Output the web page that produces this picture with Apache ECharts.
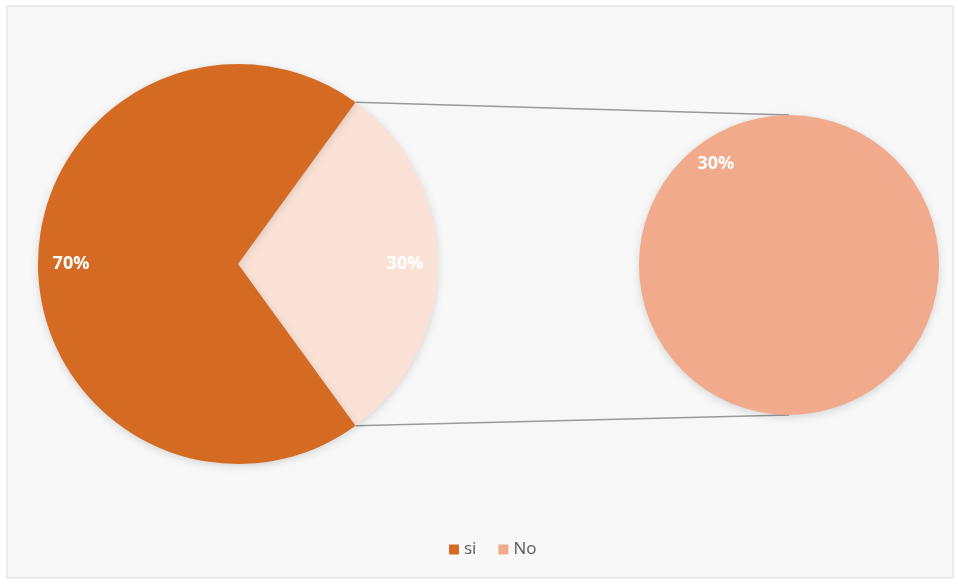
<html>
<head>
<meta charset="utf-8">
<title>pie of pie</title>
<style>
  body { margin: 0; background: #fff; }
  #chart { width: 957px; height: 582px; }
</style>
</head>
<body>
<div id="chart"></div>
<script src="https://cdn.jsdelivr.net/npm/echarts@6/dist/echarts.min.js"></script>
<script>
var categories = ['si', 'No'];
var values = [70, 30];
var colors = ['#D56B22', '#FBE2D7'];
var subColor = '#F1AA8B';

var total = values[0] + values[1];

// geometry of the two pies
var mainC = [238, 264], mainR = 200;
var subC = [789, 265], subR = 150;

// the "No" slice is centered on the right side of the main pie
var half = values[1] / total * 180;
var startMain = half;

function pct(v) { return Math.round(v / total * 100) + '%'; }

var labelStyle = { color: '#fff', fontSize: 18, fontWeight: 'bold', fontFamily: 'Open Sans' };

var rad = half * Math.PI / 180;
var p1 = [mainC[0] + mainR * Math.cos(rad), mainC[1] - mainR * Math.sin(rad)];
var p2 = [mainC[0] + mainR * Math.cos(rad), mainC[1] + mainR * Math.sin(rad)];

var chart = echarts.init(document.getElementById('chart'));
chart.setOption({
  animation: false,
  graphic: [
    { type: 'rect', z: -10, shape: { x: 7, y: 6, width: 946, height: 572 },
      style: { fill: '#f8f8f8', stroke: '#dcdcdc', lineWidth: 1 } },
    { type: 'line', z: 1, shape: { x1: p1[0], y1: p1[1], x2: subC[0], y2: subC[1] - subR },
      style: { stroke: '#9a9a9a', lineWidth: 1.5 } },
    { type: 'line', z: 1, shape: { x1: p2[0], y1: p2[1], x2: subC[0], y2: subC[1] + subR },
      style: { stroke: '#9a9a9a', lineWidth: 1.5 } }
  ],
  legend: {
    data: [
      { name: categories[0], itemStyle: { color: colors[0] } },
      { name: categories[1], itemStyle: { color: subColor } }
    ],
    left: 444, top: 536,
    icon: 'rect', itemWidth: 10, itemHeight: 10, itemGap: 22,
    textStyle: { color: '#595959', fontSize: 17, fontFamily: 'Open Sans' }
  },
  series: [
    {
      type: 'pie', center: mainC, radius: [0, mainR], startAngle: startMain,
      label: { show: false }, labelLine: { show: false }, silent: true,
      itemStyle: { shadowBlur: 8, shadowColor: 'rgba(0,0,0,0.15)', shadowOffsetY: 2 },
      data: [
        { name: categories[1], value: values[1], itemStyle: { color: colors[1] } },
        { name: categories[0], value: values[0], itemStyle: { color: colors[0] } }
      ]
    },
    {
      // label ring so that labels sit near the rim like in the original
      type: 'pie', center: mainC, radius: [mainR * 0.64, mainR], startAngle: startMain,
      silent: true, legendHoverLink: false,
      itemStyle: { color: 'transparent' },
      label: Object.assign({ show: true, position: 'inside', formatter: function (p) { return pct(p.value); } }, labelStyle),
      labelLine: { show: false },
      data: [
        { name: categories[1] + ' ', value: values[1] },
        { name: categories[0] + ' ', value: values[0] }
      ]
    },
    {
      type: 'pie', center: subC, radius: [0, subR], silent: true,
      label: { show: false }, labelLine: { show: false },
      itemStyle: { color: subColor, shadowBlur: 8, shadowColor: 'rgba(0,0,0,0.15)', shadowOffsetY: 2 },
      data: [{ name: categories[1] + '   ', value: values[1] }]
    },
    {
      type: 'pie', center: subC, radius: [subR * 0.62, subR], startAngle: -54, silent: true,
      itemStyle: { color: 'transparent' },
      label: Object.assign({ show: true, position: 'inside', formatter: function (p) { return pct(p.value); } }, labelStyle),
      labelLine: { show: false },
      data: [{ name: categories[1] + '  ', value: values[1] }]
    }
  ]
});
</script>
</body>
</html>
